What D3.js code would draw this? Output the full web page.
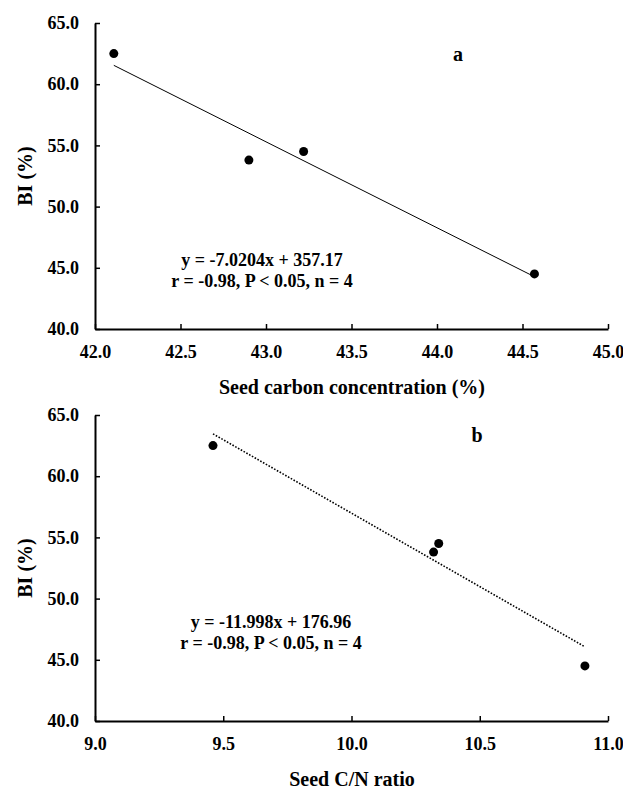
<!DOCTYPE html>
<html>
<head>
<meta charset="utf-8">
<script src="https://cdn.jsdelivr.net/npm/d3@7"></script>
<style>
  body { margin: 0; background: #fff; }
  svg text { font-family: "Liberation Serif", "Times New Roman", serif; font-weight: bold; fill: #000; }
  .axis text { font-size: 18px; }
</style>
</head>
<body>
<div id="chart"></div>
<script>
// BI values shared by both panels
var bi = [62.5, 53.8, 54.5, 44.5];
var seedCarbon = [42.11, 42.90, 43.22, 44.57];
var seedCN = [9.46, 10.32, 10.34, 10.91];

var fitA = {slope: -7.0204, intercept: 357.17};
var fitB = {slope: -11.998, intercept: 176.96};

var yTicks = [40, 45, 50, 55, 60, 65];
var xTicksA = [42.0, 42.5, 43.0, 43.5, 44.0, 44.5, 45.0];
var xTicksB = [9.0, 9.5, 10.0, 10.5, 11.0];

var svg = d3.select('#chart').append('svg')
    .attr('width', 623)
    .attr('height', 790);

function panel(opts) {
    var x = d3.scaleLinear().domain(opts.xDomain).range([95, 608]);
    var y = d3.scaleLinear().domain([40, 65]).range([opts.bottom, opts.top]);

    var g = svg.append('g');

    var ax = g.append('g')
        .attr('class', 'axis')
        .attr('transform', 'translate(0,' + opts.bottom + ')')
        .call(d3.axisBottom(x).tickValues(opts.xTicks).tickSizeInner(-5).tickSizeOuter(0)
            .tickPadding(16).tickFormat(d3.format('.1f')));
    var ay = g.append('g')
        .attr('class', 'axis')
        .attr('transform', 'translate(95,0)')
        .call(d3.axisLeft(y).tickValues(yTicks).tickSizeInner(-5).tickSizeOuter(0)
            .tickPadding(16).tickFormat(d3.format('.1f')));

    [ax, ay].forEach(function(a) {
        a.attr('font-family', null).attr('font-size', null);
        a.select('.domain').attr('stroke', '#000').attr('stroke-width', 2);
        a.selectAll('.tick line').attr('stroke', '#000').attr('stroke-width', 1.5);
        a.selectAll('.tick text').style('font-size', '18px');
    });

    // regression line across the data range
    var x0 = d3.min(opts.xs), x1 = d3.max(opts.xs);
    var line = d3.line().x(d => x(d)).y(d => y(opts.fit.slope * d + opts.fit.intercept));
    g.append('path')
        .datum([x0, x1])
        .attr('d', line)
        .attr('fill', 'none')
        .attr('stroke', '#000')
        .attr('stroke-width', opts.dotted ? 1.6 : 1)
        .attr('stroke-dasharray', opts.dotted ? '1.6,1.6' : null);

    g.selectAll('circle.pt')
        .data(opts.xs.map((d, i) => [d, bi[i]]))
        .enter().append('circle')
        .attr('class', 'pt')
        .attr('cx', d => x(d[0]))
        .attr('cy', d => y(d[1]))
        .attr('r', 4.5)
        .attr('fill', '#000');

    g.append('text')
        .attr('transform', 'translate(32,' + ((opts.top + opts.bottom) / 2) + ') rotate(-90)')
        .attr('text-anchor', 'middle')
        .style('font-size', '20px')
        .text('BI (%)');

    g.append('text')
        .attr('x', 352)
        .attr('y', opts.bottom + 65)
        .attr('text-anchor', 'middle')
        .style('font-size', '20px')
        .text(opts.xTitle);

    g.append('text')
        .attr('x', opts.labelPos[0])
        .attr('y', opts.labelPos[1])
        .attr('text-anchor', 'middle')
        .style('font-size', '20px')
        .text(opts.label);

    var eq = 'y = ' + opts.fit.slope + 'x + ' + opts.fit.intercept;
    g.append('text')
        .attr('x', opts.eqPos[0])
        .attr('y', opts.eqPos[1])
        .attr('text-anchor', 'middle')
        .style('font-size', '18px')
        .text(eq);
    g.append('text')
        .attr('x', opts.eqPos[0])
        .attr('y', opts.eqPos[1] + 21)
        .attr('text-anchor', 'middle')
        .style('font-size', '18px')
        .text('r = -0.98, P < 0.05, n = 4');
}

panel({
    xDomain: [42, 45], xTicks: xTicksA, xs: seedCarbon, fit: fitA,
    top: 23, bottom: 329, dotted: false,
    xTitle: 'Seed carbon concentration (%)', label: 'a',
    labelPos: [458, 61], eqPos: [262, 266]
});

panel({
    xDomain: [9, 11], xTicks: xTicksB, xs: seedCN, fit: fitB,
    top: 415, bottom: 721, dotted: true,
    xTitle: 'Seed C/N ratio', label: 'b',
    labelPos: [477, 442], eqPos: [271, 628]
});
</script>
</body>
</html>
